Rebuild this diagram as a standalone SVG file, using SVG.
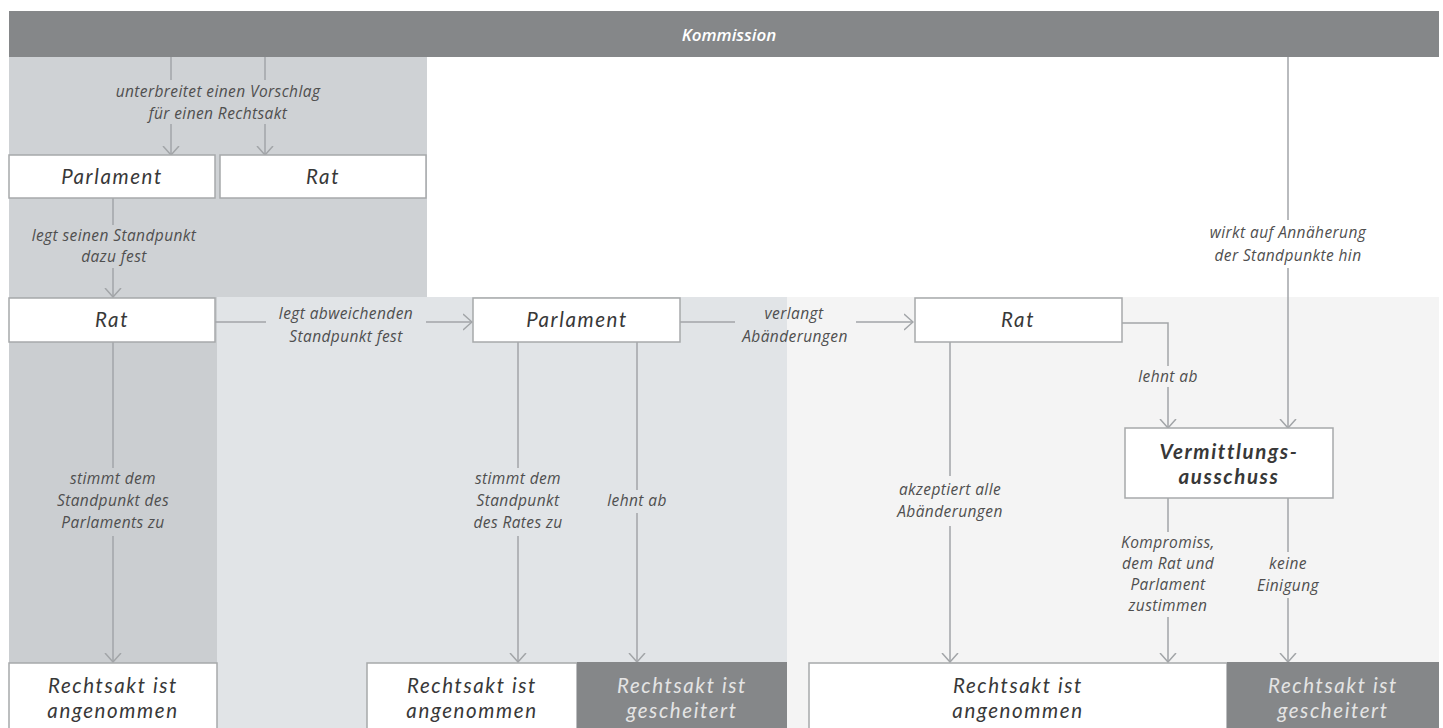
<svg xmlns="http://www.w3.org/2000/svg" width="1443" height="728" viewBox="0 0 1443 728">
<style>
.lbl{font-family:"Open Sans","Liberation Sans",sans-serif;font-style:italic;font-size:15.5px;letter-spacing:0.4px;fill:#4f4f4f;text-anchor:middle}
.box{fill:#fff;stroke:#a7a9ab;stroke-width:1.5}
.dark{fill:#858789;stroke:none}
.bt{font-family:Lato,"Open Sans",sans-serif;font-style:italic;font-size:20.5px;letter-spacing:1.6px;fill:#383838;text-anchor:middle}
.bw{font-family:Lato,"Open Sans",sans-serif;font-style:italic;font-size:20.5px;letter-spacing:1.6px;fill:#e4e4e4;text-anchor:middle}
.ln{fill:none;stroke:#a2a5a8;stroke-width:1.5}
</style>
<defs>
<marker id="ah" viewBox="0 0 10 18" refX="9.5" refY="9" markerWidth="10" markerHeight="18" markerUnits="userSpaceOnUse" orient="auto">
<path d="M0.5,1 L9.5,9 L0.5,17" fill="none" stroke="#a2a5a8" stroke-width="1.5"/>
</marker>
</defs>
<rect width="1443" height="728" fill="#fff"/>
<rect x="9" y="57" width="418" height="240" fill="#cfd2d5"/>
<rect x="217" y="297" width="570" height="431" fill="#e1e4e7"/>
<rect x="787" y="297" width="652" height="431" fill="#f4f4f4"/>
<rect x="9" y="297" width="208" height="366" fill="#cbced1"/>

<g id="kommission">
<rect x="9" y="11" width="1430" height="46" class="dark"/>
<text x="729" y="41" font-family="'Open Sans','Liberation Sans',sans-serif" font-style="italic" font-weight="600" font-size="17" fill="#fff" text-anchor="middle">Kommission</text>
</g>

<g id="connectors">
<path class="ln" d="M171,57 V80"/>
<path class="ln" d="M171,124 V155" marker-end="url(#ah)"/>
<path class="ln" d="M265,57 V80"/>
<path class="ln" d="M265,124 V155" marker-end="url(#ah)"/>
<text class="lbl"><tspan x="218" y="97">unterbreitet einen Vorschlag</tspan><tspan x="218" dy="22">für einen Rechtsakt</tspan></text>

<path class="ln" d="M113,198 V225"/>
<path class="ln" d="M113,268 V297" marker-end="url(#ah)"/>
<text class="lbl"><tspan x="114" y="241">legt seinen Standpunkt</tspan><tspan x="114" dy="21">dazu fest</tspan></text>

<path class="ln" d="M215,322 H266"/>
<path class="ln" d="M426,322 H472" marker-end="url(#ah)"/>
<text class="lbl"><tspan x="346" y="319">legt abweichenden</tspan><tspan x="346" dy="23">Standpunkt fest</tspan></text>

<path class="ln" d="M680,322 H735"/>
<path class="ln" d="M856,322 H913" marker-end="url(#ah)"/>
<text class="lbl"><tspan x="794" y="319">verlangt</tspan><tspan x="795" dy="23">Abänderungen</tspan></text>

<path class="ln" d="M113,342 V468"/>
<path class="ln" d="M113,536 V662" marker-end="url(#ah)"/>
<text class="lbl"><tspan x="113" y="484">stimmt dem</tspan><tspan x="113" dy="22">Standpunkt des</tspan><tspan x="113" dy="22">Parlaments zu</tspan></text>

<path class="ln" d="M518,342 V468"/>
<path class="ln" d="M518,536 V662" marker-end="url(#ah)"/>
<text class="lbl"><tspan x="518" y="484">stimmt dem</tspan><tspan x="518" dy="22">Standpunkt</tspan><tspan x="518" dy="22">des Rates zu</tspan></text>

<path class="ln" d="M637,342 V490"/>
<path class="ln" d="M637,513 V662" marker-end="url(#ah)"/>
<text class="lbl" x="637" y="506">lehnt ab</text>

<path class="ln" d="M950,342 V476"/>
<path class="ln" d="M950,526 V662" marker-end="url(#ah)"/>
<text class="lbl"><tspan x="950" y="495">akzeptiert alle</tspan><tspan x="950" dy="22">Abänderungen</tspan></text>

<path class="ln" d="M1122,323 H1168 V366"/>
<path class="ln" d="M1168,387 V428" marker-end="url(#ah)"/>
<text class="lbl" x="1168" y="382">lehnt ab</text>

<path class="ln" d="M1288,57 V220"/>
<path class="ln" d="M1288,268 V428" marker-end="url(#ah)"/>
<text class="lbl"><tspan x="1288" y="238">wirkt auf Annäherung</tspan><tspan x="1288" dy="23">der Standpunkte hin</tspan></text>

<path class="ln" d="M1168,498 V532"/>
<path class="ln" d="M1168,617 V662" marker-end="url(#ah)"/>
<text class="lbl"><tspan x="1168" y="548">Kompromiss,</tspan><tspan x="1168" dy="21">dem Rat und</tspan><tspan x="1168" dy="21">Parlament</tspan><tspan x="1168" dy="21">zustimmen</tspan></text>

<path class="ln" d="M1288,498 V552"/>
<path class="ln" d="M1288,598 V662" marker-end="url(#ah)"/>
<text class="lbl"><tspan x="1288" y="569">keine</tspan><tspan x="1288" dy="22">Einigung</tspan></text>
</g>

<g id="parlament1">
<rect class="box" x="9" y="155" width="206" height="43"/>
<text class="bt" x="112" y="184">Parlament</text>
</g>
<g id="rat1">
<rect class="box" x="220" y="155" width="206" height="43"/>
<text class="bt" x="323" y="184">Rat</text>
</g>
<g id="rat2">
<rect class="box" x="9" y="298" width="206" height="44"/>
<text class="bt" x="112" y="327">Rat</text>
</g>
<g id="parlament2">
<rect class="box" x="473" y="298" width="207" height="44"/>
<text class="bt" x="577" y="327">Parlament</text>
</g>
<g id="rat3">
<rect class="box" x="915" y="298" width="207" height="44"/>
<text class="bt" x="1018" y="327">Rat</text>
</g>
<g id="vermittlungsausschuss">
<rect class="box" x="1125" y="428" width="208" height="70"/>
<text class="bt" font-weight="bold" letter-spacing="1.2"><tspan x="1229" y="459">Vermittlungs-</tspan><tspan x="1229" dy="25">ausschuss</tspan></text>
</g>
<g id="angenommen1">
<rect class="box" x="9" y="663" width="208" height="70"/>
<text class="bt"><tspan x="113" y="693">Rechtsakt ist</tspan><tspan x="113" dy="25">angenommen</tspan></text>
</g>
<g id="angenommen2">
<rect class="box" x="367" y="663" width="210" height="70"/>
<text class="bt"><tspan x="472" y="693">Rechtsakt ist</tspan><tspan x="472" dy="25">angenommen</tspan></text>
</g>
<g id="gescheitert1">
<rect class="dark" x="577" y="662" width="210" height="70"/>
<text class="bw"><tspan x="682" y="693">Rechtsakt ist</tspan><tspan x="682" dy="25">gescheitert</tspan></text>
</g>
<g id="angenommen3">
<rect class="box" x="809" y="663" width="418" height="70"/>
<text class="bt"><tspan x="1018" y="693">Rechtsakt ist</tspan><tspan x="1018" dy="25">angenommen</tspan></text>
</g>
<g id="gescheitert2">
<rect class="dark" x="1227" y="662" width="212" height="70"/>
<text class="bw"><tspan x="1333" y="693">Rechtsakt ist</tspan><tspan x="1333" dy="25">gescheitert</tspan></text>
</g>
</svg>
